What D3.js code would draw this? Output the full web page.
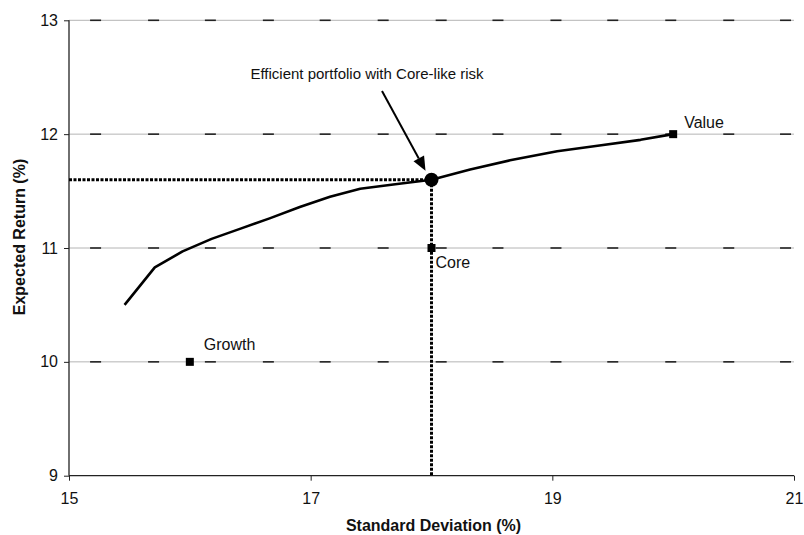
<!DOCTYPE html>
<html><head><meta charset="utf-8">
<script src="https://cdn.jsdelivr.net/npm/d3@7"></script>
<style>body{margin:0;background:#fff}svg{display:block}text{font-family:"Liberation Sans",Arial,sans-serif;fill:#111}</style>
</head><body><svg id="c" width="804" height="535"></svg>
<script>
const frontierX = [15.46,15.71,15.94,16.18,16.42,16.66,16.91,17.16,17.41,17.70,18.00,18.32,18.65,19.04,19.39,19.73,20.00];
const frontierY = [10.50,10.83,10.97,11.08,11.17,11.26,11.36,11.45,11.52,11.56,11.60,11.69,11.77,11.85,11.90,11.95,12.00];
const assetNames = ["Growth","Core","Value"];
const assetX = [16,18,20];
const assetY = [10,11,12];
const efficientX = 18, efficientY = 11.6;
const xTicks = [15,17,19,21];
const yTicks = [9,10,11,12,13];
const gridDashX = [15.22,15.70,16.17,16.65,17.12,17.60,18.08,18.55,19.03,19.50,19.98,20.46,20.93];
const annotation = "Efficient portfolio with Core-like risk";

const svg = d3.select("#c");
const x = d3.scaleLinear().domain([15,21]).range([69,794]);
const y = d3.scaleLinear().domain([9,13]).range([475.7,20.3]);

// gridlines
const g = svg.append("g");
yTicks.filter(v=>v>9).forEach(v=>{
  g.append("line").attr("x1",x(15)).attr("x2",x(21)).attr("y1",y(v)).attr("y2",y(v))
    .attr("stroke","#b4b4b4").attr("stroke-width",1);
  gridDashX.forEach(d=>{
    g.append("line").attr("x1",x(d)-5.5).attr("x2",x(d)+5.5).attr("y1",y(v)).attr("y2",y(v))
      .attr("stroke","#222").attr("stroke-width",1.6);
  });
});

// axes
const ax = svg.append("g").attr("transform",`translate(0,${y(9)})`)
  .call(d3.axisBottom(x).tickValues(xTicks).tickSize(5).tickPadding(12).tickFormat(d3.format("d")));
const ay = svg.append("g").attr("transform",`translate(${x(15)},0)`)
  .call(d3.axisLeft(y).tickValues(yTicks).tickSize(5).tickPadding(6).tickFormat(d3.format("d")));
[ax,ay].forEach(a=>{
  a.select(".domain").attr("stroke","#222").attr("stroke-width",1.3);
  a.selectAll(".tick line").attr("stroke","#222");
  a.selectAll(".tick text").attr("font-size",16).attr("fill","#111").attr("font-family","Liberation Sans, Arial, sans-serif");
});
ax.select(".domain").attr("d",`M${x(15)},0H${x(21)}`);
ay.select(".domain").attr("d",`M0,${y(9)}V${y(13)}`);

// dotted guide lines
svg.append("line").attr("x1",x(15)).attr("x2",x(efficientX)).attr("y1",y(efficientY)).attr("y2",y(efficientY))
  .attr("stroke","#000").attr("stroke-width",3).attr("stroke-dasharray","3,1.5");
svg.append("line").attr("x1",x(efficientX)).attr("x2",x(efficientX)).attr("y1",y(efficientY)).attr("y2",y(9))
  .attr("stroke","#000").attr("stroke-width",3).attr("stroke-dasharray","3,1.5");

// frontier
const line = d3.line().x((d,i)=>x(frontierX[i])).y((d,i)=>y(frontierY[i]));
svg.append("path").attr("d",line(frontierX)).attr("fill","none").attr("stroke","#000").attr("stroke-width",2.6).attr("stroke-linejoin","round");

// asset markers
assetNames.forEach((n,i)=>{
  svg.append("rect").attr("x",x(assetX[i])-4).attr("y",y(assetY[i])-4).attr("width",8).attr("height",8).attr("fill","#000");
});
const labelOffsets = {Growth:[14,-12],Core:[4,20],Value:[11,-6]};
assetNames.forEach((n,i)=>{
  svg.append("text").attr("x",x(assetX[i])+labelOffsets[n][0]).attr("y",y(assetY[i])+labelOffsets[n][1])
    .attr("font-size",16).text(n);
});

// efficient point
svg.append("circle").attr("cx",x(efficientX)).attr("cy",y(efficientY)).attr("r",7).attr("fill","#000");

// annotation + arrow
svg.append("text").attr("x",367).attr("y",79).attr("text-anchor","middle").attr("font-size",15).text(annotation);
const ex = x(efficientX)-6, ey = y(efficientY)-9;
const sx = 382, sy = 91;
const ang = Math.atan2(ey-sy, ex-sx);
const L = 14, W = 6;
const bx = ex - L*Math.cos(ang), by = ey - L*Math.sin(ang);
svg.append("line").attr("x1",sx).attr("y1",sy).attr("x2",bx).attr("y2",by).attr("stroke","#000").attr("stroke-width",2);
svg.append("path").attr("d",`M${ex},${ey}L${bx+W*Math.sin(ang)},${by-W*Math.cos(ang)}L${bx-W*Math.sin(ang)},${by+W*Math.cos(ang)}Z`).attr("fill","#000");

// axis titles
svg.append("text").attr("x",(x(15)+x(21))/2+2).attr("y",531).attr("text-anchor","middle").attr("font-size",16).attr("font-weight","bold").text("Standard Deviation (%)");
svg.append("text").attr("transform","translate(25,237) rotate(-90)").attr("text-anchor","middle").attr("font-size",16).attr("font-weight","bold").text("Expected Return (%)");
</script></body></html>
